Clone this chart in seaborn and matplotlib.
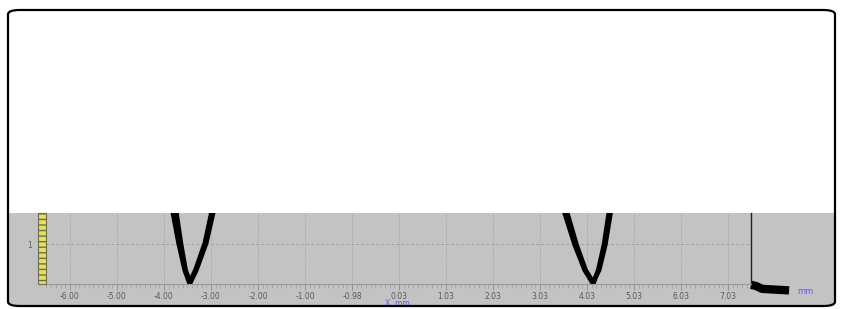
import numpy as np
import matplotlib
matplotlib.use("Agg")
import matplotlib.pyplot as plt
from matplotlib.patches import FancyBboxPatch, Rectangle
import seaborn as sns

# tick labels (one grid step = 1 mm)
tick_pos = [-6, -5, -4, -3, -2, -1, 0, 1, 2, 3, 4, 5, 6, 7, 8]
tick_labels = ["-6.00", "-5.00", "-4.00", "-3.00", "-2.00", "-1.00", "-0.98",
               "0.03", "1.03", "2.03", "3.03", "4.03", "5.03", "6.03", "7.03"]

# left V profile, two overlapping traces
left_y = [1.9, 1.025, 0.35, 0.03, 0.35, 1.025, 1.9]
left_xa = [-3.83, -3.69, -3.56, -3.46, -3.33, -3.13, -2.97]
left_xb = [-3.75, -3.64, -3.54, -3.44, -3.31, -3.10, -2.93]

# right V profile, two overlapping traces
right_y = [1.9, 0.975, 0.35, 0.025, 0.35, 0.975, 1.9]
right_xa = [4.49, 4.74, 4.95, 5.12, 5.26, 5.39, 5.52]
right_xb = [4.55, 4.78, 4.97, 5.14, 5.24, 5.36, 5.48]

# black smudge right of the plot end
blob_x = [8.49, 8.60, 8.72, 8.85, 9.00, 9.15, 9.30]
blob_y = [-0.02, -0.05, -0.12, -0.13, -0.14, -0.15, -0.16]

sns.set_style("white")
plt.rcParams['font.family'] = ['DejaVu Sans']

W, H = 843, 309
fig = plt.figure(figsize=(W / 100, H / 100), dpi=100)
fig.patch.set_facecolor("white")


def fx(px):
    return px / W


def fy(py):
    return (H - py) / H


# rounded frame and grey band
frame = FancyBboxPatch((fx(8), fy(306)), fx(835) - fx(8), fy(10) - fy(306),
                       boxstyle="round,pad=0,rounding_size=0.014",
                       transform=fig.transFigure, facecolor="white",
                       edgecolor="none", zorder=-3)
fig.add_artist(frame)
band = Rectangle((fx(8), fy(310)), fx(835) - fx(8), fy(213) - fy(310),
                 transform=fig.transFigure, facecolor="#c3c3c3",
                 edgecolor="none", zorder=-2)
fig.add_artist(band)
band.set_clip_path(frame)
frame_edge = FancyBboxPatch((fx(8), fy(306)), fx(835) - fx(8), fy(10) - fy(306),
                            boxstyle="round,pad=0,rounding_size=0.014",
                            transform=fig.transFigure, facecolor="none",
                            edgecolor="black", lw=1.6, zorder=10)
fig.add_artist(frame_edge)

ax = fig.add_axes([fx(46), fy(284), fx(751) - fx(46), fy(213) - fy(284)])
ax.set_facecolor("none")

for xs, ys in [(left_xa, left_y), (left_xb, left_y),
               (right_xa, right_y), (right_xb, right_y)]:
    sns.lineplot(x=xs, y=ys, ax=ax, color="black", lw=3.3, sort=False,
                 estimator=None)
ax.plot(blob_x, blob_y, color="black", lw=6, clip_on=False,
        solid_capstyle="butt")

ax.set_xlim(-6.51, 8.49)
ax.set_ylim(0, 1.775)

ax.set_xticks(tick_pos)
ax.set_xticklabels(tick_labels, fontsize=5.5, color="#5a5a5a")
ax.set_xticks(np.arange(-6.5, 8.5, 0.1), minor=True)
ax.tick_params(axis="x", which="major", length=4, width=0.6, color="#8a8a8a",
               pad=1.5, bottom=True)
ax.tick_params(axis="x", which="minor", length=3, width=0.5, color="#9a9a9a",
               bottom=True)
ax.set_yticks([1])
ax.set_yticklabels(["1"], fontsize=5.5, color="#5a5a5a")
ax.tick_params(axis="y", length=0, pad=10)

ax.grid(True, axis="x", color="#959595", lw=0.6, ls=":")
ax.grid(True, axis="y", color="#959595", lw=0.6, ls=(0, (3, 3)))

for s in ["top", "left"]:
    ax.spines[s].set_visible(False)
ax.spines["bottom"].set_color("#9a9a9a")
ax.spines["bottom"].set_linewidth(0.8)
ax.spines["right"].set_color("#202020")
ax.spines["right"].set_linewidth(1.0)

# yellow striped y-axis bar
ybar = Rectangle((-8 / 705, 0), 8 / 705, 1.0, transform=ax.transAxes,
                 facecolor="#e6df5a", edgecolor="#6e6e50", hatch="---",
                 lw=0.8, clip_on=False, zorder=4)
ax.add_patch(ybar)

ax.set_xlabel("X, mm", fontsize=5.5, color="#5a5aee", va="center")
ax.xaxis.set_label_coords(0.498, -0.275)
ax.text(1.066, -0.10, "mm", transform=ax.transAxes, fontsize=6,
        color="#5a5aee", ha="left", va="center")

fig.savefig("out.png", dpi=100)
